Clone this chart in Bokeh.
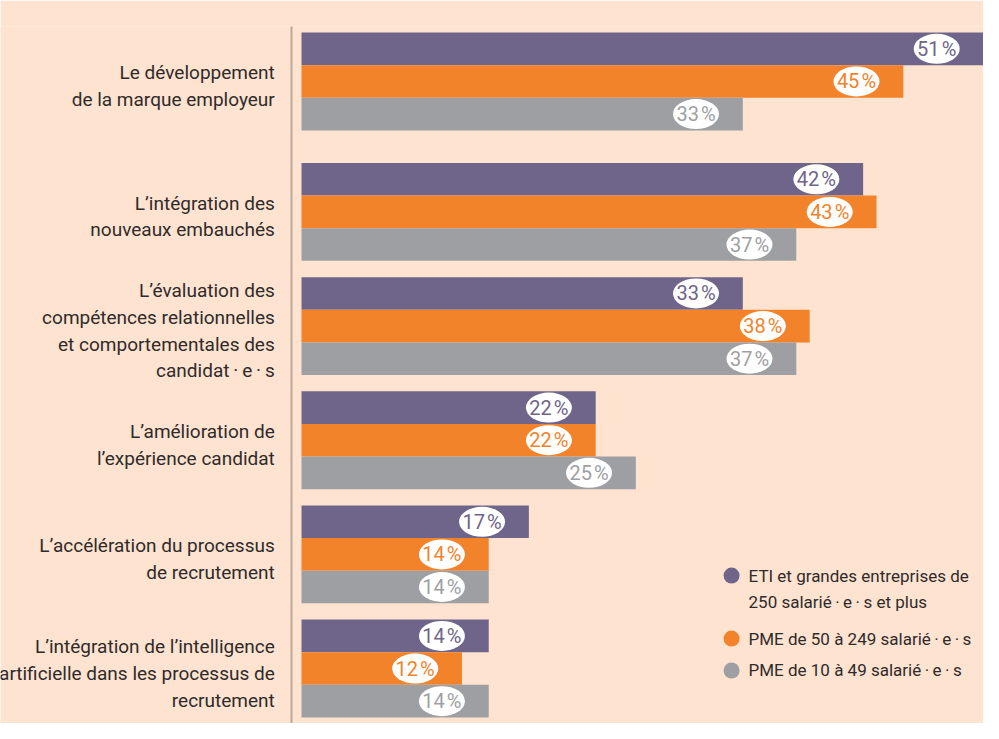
from bokeh.plotting import figure
from bokeh.models import FactorRange, Range1d, Span, ColumnDataSource
from bokeh.core.properties import value
from bokeh.embed import file_html
from bokeh.resources import INLINE

# ---- data ----
categories = [
    "Le développement\nde la marque employeur",
    "L\u2019intégration des\nnouveaux embauchés",
    "L\u2019évaluation des\ncompétences relationnelles\net comportementales des\ncandidat\u2009·\u2009e\u2009·\u2009s",
    "L\u2019amélioration de\nl\u2019expérience candidat",
    "L\u2019accélération du processus\nde recrutement",
    "L\u2019intégration de l\u2019intelligence\nartificielle dans les processus de\nrecrutement",
]
# the first item stands a little apart from the others in the original layout
blocks = ["top", "rest", "rest", "rest", "rest", "rest"]
series_keys = ["eti", "pme50", "pme10"]
series_labels = [
    "ETI et grandes entreprises de\n250 salarié\u2009·\u2009e\u2009·\u2009s et plus",
    "PME de 50 à 249 salarié\u2009·\u2009e\u2009·\u2009s",
    "PME de 10 à 49 salarié\u2009·\u2009e\u2009·\u2009s",
]
eti = [51, 42, 33, 22, 17, 14]
pme50 = [45, 43, 38, 22, 14, 12]
pme10 = [33, 37, 37, 25, 14, 14]
series_values = [eti, pme50, pme10]
colors = ["#6f6489", "#f3832a", "#9e9fa3"]

BG = "#fde3d0"
FONT = "Roboto"
TEXT = "#2f2b2b"

factors = [(b, c, s) for b, c in zip(blocks, categories) for s in series_keys]

p = figure(
    width=983, height=723,
    x_range=Range1d(-22.51, 51.0),
    y_range=FactorRange(factors=list(reversed(factors)), group_padding=1.0,
                        subgroup_padding=0.5, factor_padding=0.0,
                        range_padding=0.185, range_padding_units="absolute"),
    x_axis_type=None, y_axis_type=None,
    output_backend="svg", toolbar_location=None,
    min_border_left=0, min_border_right=0, min_border_top=26, min_border_bottom=0,
)
p.background_fill_color = BG
p.border_fill_color = BG
p.outline_line_color = None
p.grid.visible = False

# dotted axis line
p.add_layout(Span(location=-0.75, dimension="height", line_color="#7d6c63",
                  line_width=2, line_dash="1 1"))

for key, vals, col in zip(series_keys, series_values, colors):
    src = ColumnDataSource(dict(
        y=[(b, c, key) for b, c in zip(blocks, categories)],
        v=vals,
        lx=[v - 3.5 for v in vals],
        lab=[f"{v}\u200a%" for v in vals],
    ))
    p.hbar(y="y", left=0, right="v", height=1.0, source=src,
           fill_color=col, line_color=None)
    p.ellipse(x="lx", y="y", width=46, height=30, width_units="screen",
              height_units="screen", source=src, fill_color="white", line_color=None)
    p.text(x="lx", y="y", text="lab", source=src, text_align="center",
           text_baseline="middle", text_color=col, text_font=value(FONT),
           text_font_size="20px")

# category labels (a touch below the group centre, as in the original)
lsrc = ColumnDataSource(dict(y=[(b, c, -0.14) for b, c in zip(blocks, categories)],
                             x=[-2.0] * len(categories), t=categories))
p.text(x="x", y="y", text="t", source=lsrc, text_align="right", text_baseline="middle",
       text_color=TEXT, text_font=value(FONT), text_font_size="19px",
       text_line_height=1.17)

# legend block (markers + text, lower right), placed by categorical offsets
LEG_X = 32.16         # marker centre, in % units
LEG_TEXT_X = 33.43    # label start, in % units
LEG_ANCHOR = ("rest", categories[-1], series_keys[0])
LEG_ROWS = [1.85, -0.08, -1.06]   # offsets in bar heights from the anchor
LEG_LINE = 0.8
mx, my, mc, tx, ty, tt = [], [], [], [], [], []
for lab, col, off in zip(series_labels, colors, LEG_ROWS):
    mx.append(LEG_X); my.append(LEG_ANCHOR + (off,)); mc.append(col)
    for j, line in enumerate(lab.split("\n")):
        tx.append(LEG_TEXT_X); ty.append(LEG_ANCHOR + (off - j * LEG_LINE,)); tt.append(line)
p.scatter(x="x", y="y", color="c", source=ColumnDataSource(dict(x=mx, y=my, c=mc)),
          marker="circle", size=16, line_color=None)
p.text(x="x", y="y", text="t", source=ColumnDataSource(dict(x=tx, y=ty, t=tt)),
       text_align="left", text_baseline="middle",
       text_color=TEXT, text_font=value(FONT), text_font_size="17px")

open("out.html", "w").write(file_html(p, INLINE))
